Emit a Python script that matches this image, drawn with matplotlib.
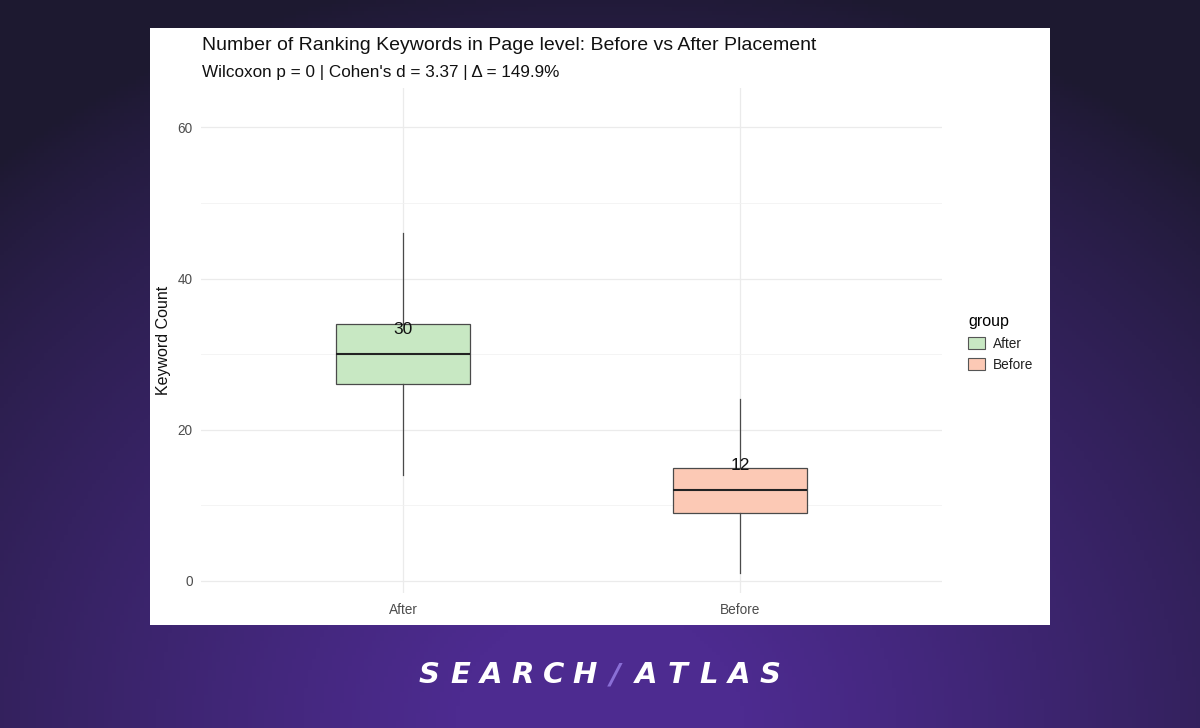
import numpy as np
import matplotlib
matplotlib.use("Agg")
import matplotlib.pyplot as plt
from matplotlib.patches import Rectangle, Patch
from matplotlib.colors import to_rgb

plt.rcParams['font.family'] = ['Liberation Sans', 'DejaVu Sans']

# ---- data ----
groups = ["After", "Before"]
whisker_low = [14, 1]
q1 = [26, 9]
median = [30, 12]
q3 = [34, 15]
whisker_high = [46, 24]
median_labels = ["30", "12"]
box_colors = ["#c8e8c3", "#fcc9b5"]
y_ticks = [0, 20, 40, 60]
title = "Number of Ranking Keywords in Page level: Before vs After Placement"
subtitle = "Wilcoxon p = 0 | Cohen's d = 3.37 | \u0394 = 149.9%"

W, H = 1200, 728
fig = plt.figure(figsize=(W / 100, H / 100), dpi=100)

# ---- gradient background ----
bg = fig.add_axes([0, 0, 1, 1])
bg.set_axis_off()
xx, yy = np.meshgrid(np.linspace(0, 1, 300), np.linspace(0, 1, 200))
dark = np.array(to_rgb("#1d1930"))
purple = np.array(to_rgb("#4d2b90"))
d = np.sqrt(((xx - 0.5) / 0.75) ** 2 + ((yy - 1.0) / 1.05) ** 2)
w = np.clip(1 - d, 0, 1) ** 0.8
w = np.clip(w * 1.15, 0, 1)
img = dark[None, None, :] * (1 - w[..., None]) + purple[None, None, :] * w[..., None]
bg.imshow(img, extent=[0, 1, 0, 1], origin="upper", aspect="auto")
bg.set_xlim(0, 1)
bg.set_ylim(0, 1)

# white panel
bg.add_patch(Rectangle((150 / W, 1 - 625 / H), 900 / W, 597 / H,
                       facecolor="white", edgecolor="none", zorder=2))

# ---- main axes ----
ax = fig.add_axes([201 / W, 1 - 593 / H, 741 / W, 505 / H])
ax.set_facecolor("white")
stats = []
for i, g in enumerate(groups):
    stats.append(dict(label=g, whislo=whisker_low[i], q1=q1[i], med=median[i],
                      q3=q3[i], whishi=whisker_high[i], fliers=[]))
pos = np.arange(1, len(groups) + 1)
bp = ax.bxp(stats, positions=pos, widths=0.4, patch_artist=True, showcaps=False,
            boxprops=dict(edgecolor="#4a4a4a", linewidth=0.9),
            whiskerprops=dict(color="#4a4a4a", linewidth=0.9),
            medianprops=dict(color="#222222", linewidth=1.5),
            zorder=3)
for patch, c in zip(bp["boxes"], box_colors):
    patch.set_facecolor(c)

for p, m, lab in zip(pos, median, median_labels):
    ax.text(p, m + 3.3, lab, ha="center", va="center", fontsize=12.5,
            color="#111111", zorder=5)

ax.set_xlim(0.4, 2.6)
ax.set_ylim(-1.6, 65.2)
ax.set_yticks(y_ticks)
ax.set_yticks([10, 30, 50], minor=True)
ax.set_xticks(pos)
ax.set_xticklabels(groups)
ax.grid(True, which="major", color="#ebebeb", linewidth=0.9, zorder=0)
ax.grid(True, which="minor", axis="y", color="#f2f2f2", linewidth=0.6, zorder=0)
ax.set_axisbelow(True)
for s in ax.spines.values():
    s.set_visible(False)
ax.tick_params(axis="both", which="both", length=0, labelsize=9.8,
               labelcolor="#4d4d4d")
ax.tick_params(axis="x", pad=7)
ax.tick_params(axis="y", pad=6)
ax.set_ylabel("Keyword Count", fontsize=11.5, color="#111111", labelpad=5)

# titles
fig.text(202 / W, 1 - 46 / H, title, fontsize=14, color="#111111",
         ha="left", va="center")
fig.text(202 / W, 1 - 73 / H, subtitle, fontsize=12.3, color="#111111",
         ha="left", va="center")

# legend
handles = [Patch(facecolor=c, edgecolor="#555555", linewidth=0.8) for c in box_colors]
leg = fig.legend(handles, groups, title="group", loc="center left",
                 bbox_to_anchor=(956 / W, 1 - 343 / H), frameon=False,
                 fontsize=9.8, title_fontsize=11.5, handlelength=1.2,
                 handleheight=1.0, labelspacing=0.55, handletextpad=0.6,
                 alignment="left")
for t in leg.get_texts():
    t.set_color("#222222")

# logo
letters = list("SEARCH") + ["/"] + list("ATLAS")
pitch = 31.0
x0 = 600 - pitch * (len(letters) - 1) / 2
for k, ch in enumerate(letters):
    col = "#8a6fd6" if ch == "/" else "white"
    fig.text((x0 + k * pitch) / W, 1 - 675 / H, ch, fontsize=21,
             fontweight="bold", fontstyle="italic", color=col,
             ha="center", va="center", family=["DejaVu Sans"])

fig.savefig("out.png", dpi=100)
